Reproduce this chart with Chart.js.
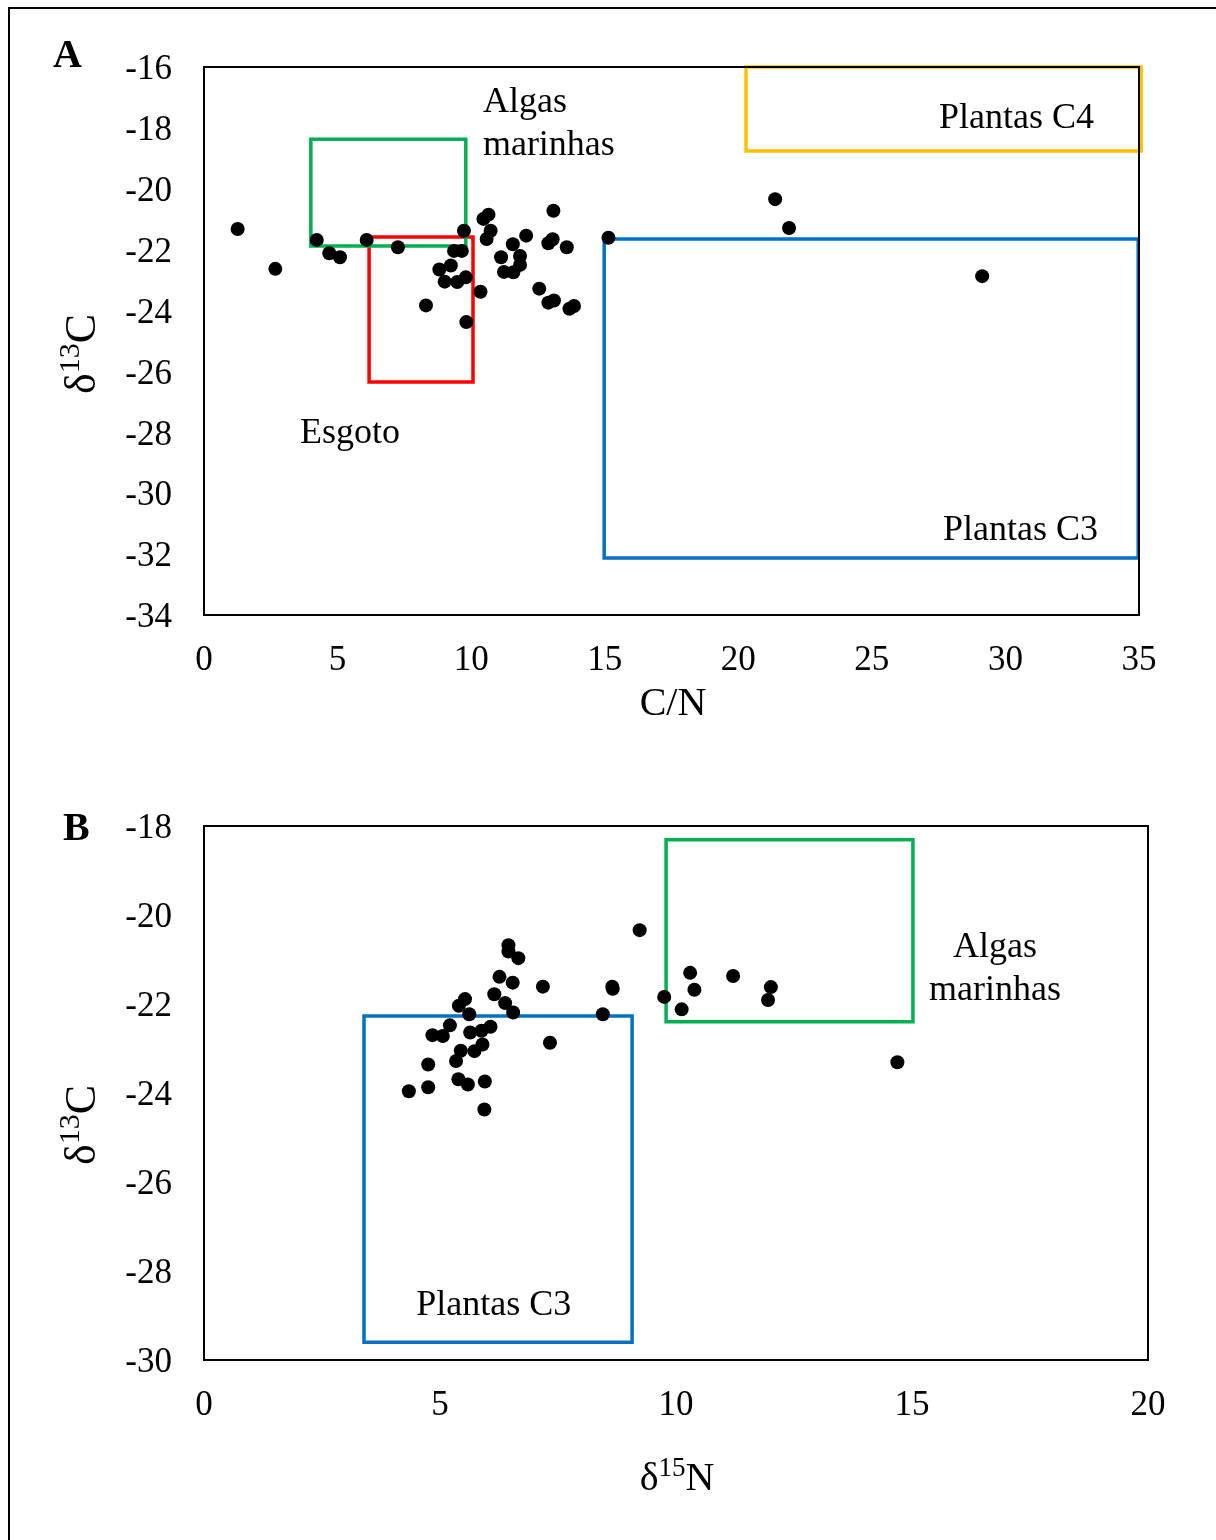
<!DOCTYPE html>
<html>
<head>
<meta charset="utf-8">
<script src="https://cdn.jsdelivr.net/npm/chart.js@4.4.0/dist/chart.umd.min.js"></script>
<style>
  html, body { margin: 0; padding: 0; background: #fff; }
  #page { position: relative; width: 1216px; height: 1540px; overflow: hidden; }
  #frame { position: absolute; left: 8px; top: 7px; width: 1300px; height: 1600px;
           border-top: 2px solid #000; border-left: 2px solid #000; }
  canvas { position: absolute; left: 0; }
  #chartA { top: 0; }
  #chartB { top: 760px; }
</style>
</head>
<body>
<div id="page">
  <div id="frame"></div>
  <canvas id="chartA" width="1216" height="760"></canvas>
  <canvas id="chartB" width="1216" height="780"></canvas>
</div>
<script>
// Panel A: C/N ratio against δ13C
const cnRatio = [1.26, 2.67, 4.22, 4.69, 5.09, 6.09, 7.26, 8.31, 8.81, 9.24, 9.01, 9.48, 9.80, 9.36, 9.65,
                 9.73, 9.82, 10.35, 10.46, 10.65, 10.73, 10.58, 11.12, 11.23, 11.56, 11.58, 11.83, 11.83,
                 12.06, 13.08, 12.89, 13.05, 13.58, 12.55, 12.89, 13.10, 13.68, 13.85, 15.14, 21.38, 21.90, 29.13];
const d13cA = [-21.32, -22.63, -21.68, -22.12, -22.25, -21.68, -21.92, -23.83, -22.65, -22.52, -23.05, -23.06, -22.91, -22.04, -22.04,
               -21.38, -24.38, -23.38, -20.99, -20.85, -21.38, -21.65, -22.25, -22.73, -21.82, -22.74, -22.21, -22.50,
               -21.54, -20.72, -21.79, -21.66, -21.92, -23.28, -23.74, -23.67, -23.94, -23.85, -21.61, -20.34, -21.29, -22.87];

// Panel B: δ15N against δ13C
const d15N = [4.34, 4.75, 4.75, 4.84, 5.06, 5.21, 5.39, 5.59, 5.34, 5.44, 5.64, 5.73, 5.90, 5.88, 6.07,
              5.95, 5.94, 5.40, 5.53, 5.62, 6.15, 6.38, 6.55, 6.26, 6.54, 6.45, 6.45, 6.66, 7.18, 7.33,
              8.45, 8.65, 8.66, 9.23, 9.75, 10.30, 10.39, 10.12, 11.21, 12.01, 11.95, 14.69];
const d13cB = [-23.96, -23.87, -23.36, -22.70, -22.72, -22.48, -23.69, -23.81, -23.28, -23.05, -22.64, -23.06, -22.91, -22.60, -22.51,
               -23.74, -24.37, -22.04, -21.89, -22.23, -21.78, -21.98, -22.19, -21.39, -21.52, -20.68, -20.82, -20.97, -21.61, -22.87,
               -22.23, -21.61, -21.66, -20.34, -21.84, -21.30, -21.68, -22.12, -21.37, -21.62, -21.91, -23.31];

// Source end-member ranges drawn as boxes
const regionNamesA = ['Algas marinhas', 'Esgoto', 'Plantas C4', 'Plantas C3'];
const regionXA = [[4.0, 9.8], [6.18, 10.07], [20.29, 35.08], [14.98, 34.97]];
const regionYA = [[-18.37, -21.88], [-21.58, -26.35], [-16.0, -18.76], [-21.65, -32.13]];
const regionNamesB = ['Algas marinhas', 'Plantas C3'];
const regionXB = [[9.79, 15.02], [3.39, 9.07]];
const regionYB = [[-18.31, -22.40], [-22.27, -29.6]];

// Region name lines, anchored in data units
const labelTextA = ['Algas', 'marinhas', 'Plantas C4', 'Esgoto', 'Plantas C3'];
const labelXA = [10.44, 10.44, 27.51, 3.59, 27.66];
const labelYA = [-17.48, -18.89, -18.0, -28.35, -31.54];
const labelTextB = ['Algas', 'marinhas', 'Plantas C3'];
const labelXB = [16.76, 16.76, 6.14];
const labelYB = [-20.94, -21.91, -28.99];

const regionColors = {
  'Algas marinhas': '#00B050',
  'Esgoto': '#FF0000',
  'Plantas C4': '#FFC000',
  'Plantas C3': '#0070C0'
};

const SERIF = '"Liberation Serif", "Times New Roman", serif';

function pairs(xs, ys) {
  return xs.map((x, i) => ({ x: x, y: ys[i] }));
}

function regionDatasets(names, xs, ys) {
  return names.map((name, i) => ({
    type: 'line',
    label: name,
    data: [
      { x: xs[i][0], y: ys[i][0] }, { x: xs[i][1], y: ys[i][0] },
      { x: xs[i][1], y: ys[i][1] }, { x: xs[i][0], y: ys[i][1] },
      { x: xs[i][0], y: ys[i][0] }
    ],
    showLine: true,
    borderColor: regionColors[name],
    borderWidth: 3.5,
    borderJoinStyle: 'miter',
    borderCapStyle: 'square',
    pointRadius: 0,
    fill: false,
    tension: 0,
    clip: false,
    order: 1
  }));
}

// text with superscript parts, centred on (cx, cy) baseline
function drawRich(ctx, segs, cx, cy, size, rotate) {
  ctx.save();
  ctx.translate(cx, cy);
  if (rotate) ctx.rotate(-Math.PI / 2);
  const fontOf = s => (s.sup ? Math.round(size * 0.68) : size) + 'px ' + SERIF;
  let total = 0;
  segs.forEach(s => { ctx.font = fontOf(s); total += ctx.measureText(s.t).width; });
  let pos = -total / 2;
  ctx.textAlign = 'left';
  ctx.textBaseline = 'alphabetic';
  ctx.fillStyle = '#000';
  segs.forEach(s => {
    ctx.font = fontOf(s);
    ctx.fillText(s.t, pos, s.sup ? -size * 0.36 : 0);
    pos += ctx.measureText(s.t).width;
  });
  ctx.restore();
}

const decor = {
  id: 'decor',
  afterDatasetsDraw(chart, args, opts) {
    const ctx = chart.ctx;
    const a = chart.chartArea;
    const xs = chart.scales.x, ys = chart.scales.y;
    ctx.save();
    // plot frame
    ctx.strokeStyle = '#000';
    ctx.lineWidth = 2;
    ctx.strokeRect(a.left, a.top, a.right - a.left, a.bottom - a.top);
    // region names
    ctx.fillStyle = '#000';
    ctx.font = '36px ' + SERIF;
    ctx.textAlign = opts.align;
    ctx.textBaseline = 'alphabetic';
    opts.texts.forEach((t, i) => {
      ctx.fillText(t, xs.getPixelForValue(opts.xs[i]), ys.getPixelForValue(opts.ys[i]));
    });
    // panel letter
    ctx.font = 'bold 40px ' + SERIF;
    ctx.textAlign = 'left';
    ctx.fillText(opts.panel, opts.panelPos[0], opts.panelPos[1]);
    ctx.restore();
    // axis titles
    drawRich(ctx, opts.xTitle, opts.xTitlePos[0], opts.xTitlePos[1], opts.xTitleSize, false);
    drawRich(ctx, opts.yTitle, opts.yTitlePos[0], opts.yTitlePos[1], opts.yTitleSize, true);
  }
};

function axis(min, max, step, size, isX) {
  return {
    type: 'linear',
    min: min,
    max: max,
    grid: { display: false, drawTicks: false },
    border: { display: false },
    ticks: {
      stepSize: step,
      autoSkip: false,
      maxRotation: 0,
      padding: isX ? 25 : 32,
      labelOffset: isX ? 0 : 3,
      color: '#000',
      font: { family: SERIF, size: 35 },
      callback: v => String(v)
    },
    afterFit: scale => {
      if (isX) scale.height = size; else scale.width = size;
    }
  };
}

function makeChart(id, points, regions, pad, xAxis, yAxis, decorOpts) {
  return new Chart(document.getElementById(id), {
    type: 'scatter',
    data: {
      datasets: [{
        label: 'amostras',
        data: points,
        backgroundColor: '#000',
        borderWidth: 0,
        pointRadius: 7,
        order: 0
      }].concat(regions)
    },
    options: {
      responsive: false,
      animation: false,
      layout: { padding: pad },
      scales: { x: xAxis, y: yAxis },
      plugins: {
        legend: { display: false },
        tooltip: { enabled: false },
        decor: decorOpts
      }
    },
    plugins: [decor]
  });
}

makeChart('chartA',
  pairs(cnRatio, d13cA),
  regionDatasets(regionNamesA, regionXA, regionYA),
  { top: 67, right: 77, left: 0, bottom: 0 },
  axis(0, 35, 5, 145, true),
  axis(-34, -16, 2, 204, false),
  {
    texts: labelTextA, xs: labelXA, ys: labelYA, align: 'left',
    panel: 'A', panelPos: [53, 67],
    xTitle: [{ t: 'C/N' }], xTitlePos: [673, 715], xTitleSize: 40,
    yTitle: [{ t: 'δ' }, { t: '13', sup: true }, { t: 'C' }], yTitlePos: [95, 354], yTitleSize: 44
  });

makeChart('chartB',
  pairs(d15N, d13cB),
  regionDatasets(regionNamesB, regionXB, regionYB),
  { top: 66, right: 68, left: 0, bottom: 0 },
  axis(0, 20, 5, 180, true),
  axis(-30, -18, 2, 204, false),
  {
    texts: labelTextB, xs: labelXB, ys: labelYB, align: 'center',
    panel: 'B', panelPos: [63, 80],
    xTitle: [{ t: 'δ' }, { t: '15', sup: true }, { t: 'N' }], xTitlePos: [677, 730], xTitleSize: 40,
    yTitle: [{ t: 'δ' }, { t: '13', sup: true }, { t: 'C' }], yTitlePos: [95, 365], yTitleSize: 44
  });
</script>
</body>
</html>
